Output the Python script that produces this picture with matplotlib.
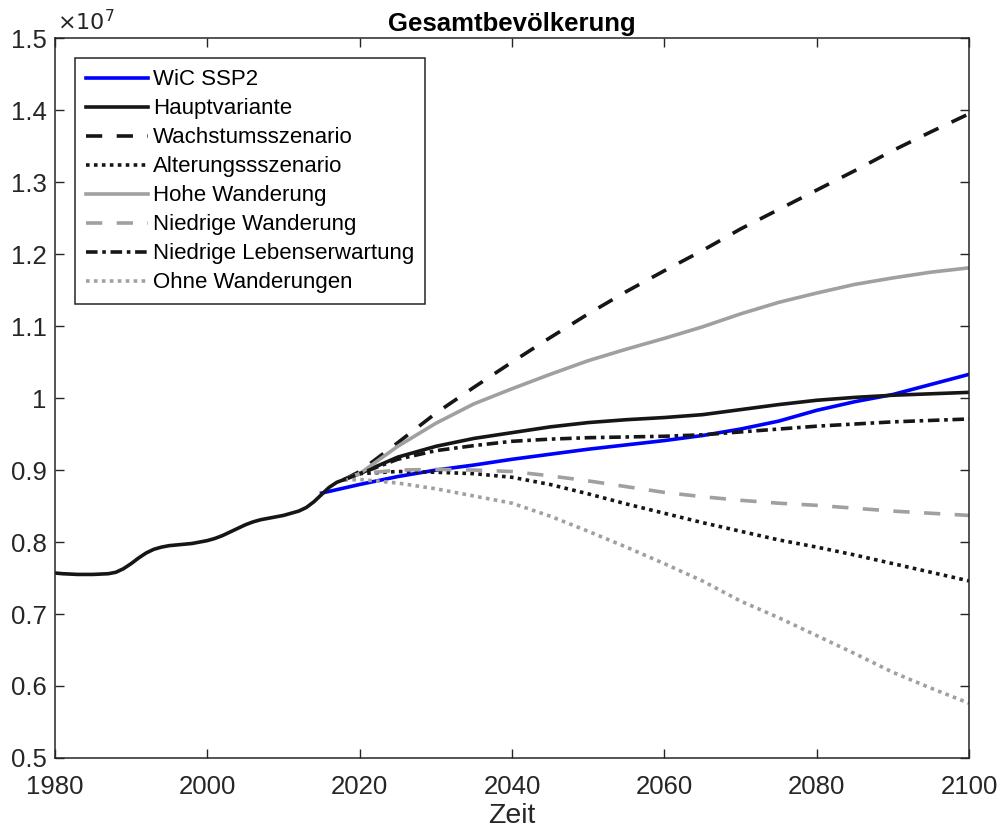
import numpy as np
import matplotlib
matplotlib.use("Agg")
import matplotlib.pyplot as plt
from matplotlib.ticker import FuncFormatter

plt.rcParams['font.family'] = ['Liberation Sans', 'DejaVu Sans']

# Historical population (millions)
hist_years = list(range(1980, 2019))
hist_pop = [7.57, 7.56, 7.555, 7.55, 7.55, 7.55, 7.555, 7.56, 7.58, 7.63,
            7.70, 7.78, 7.85, 7.90, 7.93, 7.95, 7.96, 7.97, 7.98, 8.00,
            8.02, 8.05, 8.09, 8.14, 8.19, 8.24, 8.28, 8.31, 8.33, 8.35,
            8.37, 8.40, 8.43, 8.48, 8.56, 8.66, 8.76, 8.83, 8.87]

# Scenario years (millions)
scen_years = [2018, 2020, 2025, 2030, 2035, 2040, 2045, 2050, 2055, 2060,
              2065, 2070, 2075, 2080, 2085, 2090, 2095, 2100]
haupt = [8.87, 8.95, 9.18, 9.33, 9.44, 9.52, 9.60, 9.66, 9.70, 9.73,
         9.77, 9.84, 9.91, 9.97, 10.01, 10.04, 10.06, 10.08]
wachstum = [8.87, 8.98, 9.38, 9.79, 10.15, 10.50, 10.84, 11.17, 11.48, 11.77,
            12.05, 12.35, 12.62, 12.89, 13.16, 13.44, 13.70, 13.95]
alterung = [8.87, 8.95, 8.98, 8.97, 8.95, 8.90, 8.80, 8.67, 8.53, 8.40,
            8.27, 8.15, 8.03, 7.93, 7.82, 7.70, 7.58, 7.46]
hohe_wand = [8.87, 8.95, 9.33, 9.65, 9.92, 10.13, 10.33, 10.52, 10.68, 10.83,
             10.99, 11.17, 11.33, 11.46, 11.58, 11.67, 11.75, 11.81]
niedr_wand = [8.87, 8.95, 9.00, 9.01, 9.00, 8.98, 8.92, 8.85, 8.77, 8.69,
              8.63, 8.58, 8.54, 8.51, 8.47, 8.43, 8.40, 8.37]
niedr_leb = [8.87, 8.95, 9.15, 9.27, 9.34, 9.40, 9.43, 9.45, 9.46, 9.47,
             9.49, 9.53, 9.57, 9.61, 9.64, 9.67, 9.69, 9.71]
ohne_wand = [8.86, 8.87, 8.82, 8.74, 8.64, 8.54, 8.36, 8.15, 7.93, 7.70,
             7.46, 7.18, 6.95, 6.70, 6.45, 6.19, 5.97, 5.76]

# WiC SSP2 (millions)
wic_years = [2015, 2020, 2025, 2030, 2035, 2040, 2045, 2050, 2055, 2060, 2065,
             2070, 2075, 2080, 2085, 2090, 2095, 2100]
wic_pop = [8.68, 8.80, 8.91, 9.00, 9.07, 9.15, 9.22, 9.29, 9.35, 9.41, 9.48,
           9.57, 9.68, 9.83, 9.95, 10.05, 10.19, 10.33]

lw = 2.6
dark = '#161616'
gray = '#a0a0a0'
dashed = (0, (4.5, 4))
dotted = (0, (1, 1.2))
dashdot = (0, (3.2, 1.3, 1, 1.3))

fig = plt.figure(figsize=(9.99, 8.32), dpi=100)
ax = fig.add_axes([0.055, 0.089, 0.915, 0.865])

M = 1e6
ax.plot(wic_years, np.array(wic_pop) * M, color='#0000ff', lw=lw, label='WiC SSP2')
ax.plot(scen_years, np.array(haupt) * M, color=dark, lw=lw, label='Hauptvariante')
ax.plot(scen_years, np.array(wachstum) * M, color=dark, lw=lw, ls=dashed,
        label='Wachstumsszenario')
ax.plot(scen_years, np.array(alterung) * M, color=dark, lw=lw, ls=dotted,
        label='Alterungssszenario')
ax.plot(scen_years, np.array(hohe_wand) * M, color=gray, lw=lw, label='Hohe Wanderung')
ax.plot(scen_years, np.array(niedr_wand) * M, color=gray, lw=lw, ls=dashed,
        label='Niedrige Wanderung')
ax.plot(scen_years, np.array(niedr_leb) * M, color=dark, lw=lw, ls=dashdot,
        label='Niedrige Lebenserwartung')
ax.plot(scen_years, np.array(ohne_wand) * M, color=gray, lw=lw, ls=dotted,
        label='Ohne Wanderungen')
ax.plot(hist_years, np.array(hist_pop) * M, color=dark, lw=lw)

ax.set_xlim(1980, 2100)
ax.set_ylim(0.5e7, 1.5e7)
ax.set_xticks(np.arange(1980, 2101, 20))
ax.set_yticks(np.arange(0.5e7, 1.5e7 + 1, 0.1e7))
ax.yaxis.set_major_formatter(FuncFormatter(lambda v, p: f"{v / 1e7:g}"))

axcol = '#262626'
for s in ax.spines.values():
    s.set_color(axcol)
    s.set_linewidth(1.1)
ax.tick_params(direction='in', top=True, right=True, length=6.5, width=1.0,
               colors=axcol, labelsize=18.5)
ax.tick_params(axis='y', pad=6)
ax.tick_params(axis='x', pad=12)

ax.text(0.002, 1.004, r'$\times10^{7}$', transform=ax.transAxes, fontsize=16,
        color=axcol, ha='left', va='bottom')
ax.set_title('Gesamtbevölkerung', fontsize=18.5, fontweight='bold', pad=5)
ax.set_xlabel('Zeit', fontsize=20.5, color=axcol, labelpad=3)

leg = ax.legend(loc='upper left', bbox_to_anchor=(20 / 914, 1 - 20 / 720),
                borderaxespad=0, fontsize=16, handlelength=2.8, handletextpad=0.2,
                labelspacing=0.36, borderpad=0.5, fancybox=False, framealpha=1)
leg.get_frame().set_edgecolor(axcol)
leg.get_frame().set_linewidth(1.1)
for t in leg.get_texts():
    t.set_color('#000000')

fig.savefig('out.png', dpi=100)
